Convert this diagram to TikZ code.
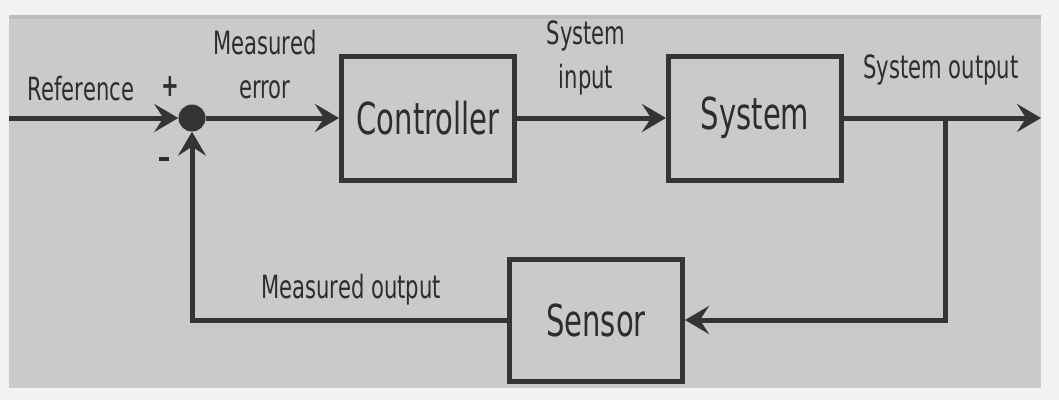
\documentclass[tikz,border=0pt]{standalone}
\usepackage{fontspec}
\setmainfont{DejaVu Sans}[FakeStretch=0.66]
\usetikzlibrary{arrows.meta}
\definecolor{outerbg}{RGB}{241,242,244}
\definecolor{panel}{RGB}{201,202,204}
\definecolor{ink}{RGB}{52,52,52}
\definecolor{txt}{RGB}{45,45,45}
\tikzset{
  blockbox/.style={draw=ink, line width=5pt, minimum width=173pt, minimum height=124pt, inner sep=0pt, font=\fontsize{44}{48}\selectfont, text=txt},
  sig/.style={draw=ink, line width=5pt},
  arr/.style={sig, -{Stealth[length=24pt,width=28pt,inset=9pt]}},
  lbl/.style={font=\fontsize{32}{34}\selectfont, text=txt, inner sep=0pt, align=center},
  signlbl/.style={lbl, font=\bfseries\fontsize{32}{34}\selectfont},
}
\begin{document}
\begin{tikzpicture}[x=1pt,y=-1pt]
\useasboundingbox (0,0) rectangle (1059,400);
\fill[outerbg] (0,0) rectangle (1059,400);
\fill[panel] (9,15) rectangle (1041,388);
\fill[black!30,opacity=0.5] (9,15) rectangle (1041,19);
% nodes
\node[circle, fill=ink, minimum size=27pt, inner sep=0pt] (sum) at (192,118) {};
\node[blockbox] (ctrl) at (428,118) {Controller};
\node[blockbox] (sys) at (755,118) {System};
\node[blockbox, minimum height=122pt] (sens) at (596,320) {Sensor};
\coordinate (in) at (9,118);
\coordinate (out) at (1041,118);
\coordinate (br) at (945,118);
\coordinate (brd) at (945,320);
\coordinate (fb) at (192,320);
% connectors
\draw[arr] (in) -- (sum.west);
\draw[arr] (sum.east) -- (ctrl.west);
\draw[arr] (ctrl.east) -- (sys.west);
\draw[arr] (sys.east) -- (out);
\draw[arr] (br) -- (brd) -- (sens.east);
\draw[arr] (sens.west) -- (fb) -- (sum.south);
% labels
\node[lbl] (lref) at (81,89) {Reference};
\node[signlbl] (lplus) at (170,86) {+};
\node[lbl, text=txt] (lminus) at (164,159) {\textcolor{txt}{\rule{10pt}{3.5pt}}};
\node[lbl, align=center] (lerr) at (265,65) {Measured\\[10pt]error};
\node[lbl, align=center] (lin) at (586,58) {System\\[10pt]input};
\node[lbl] (lout) at (941,70) {System output};
\node[lbl] (lmo) at (351,290) {Measured output};
\end{tikzpicture}
\end{document}
